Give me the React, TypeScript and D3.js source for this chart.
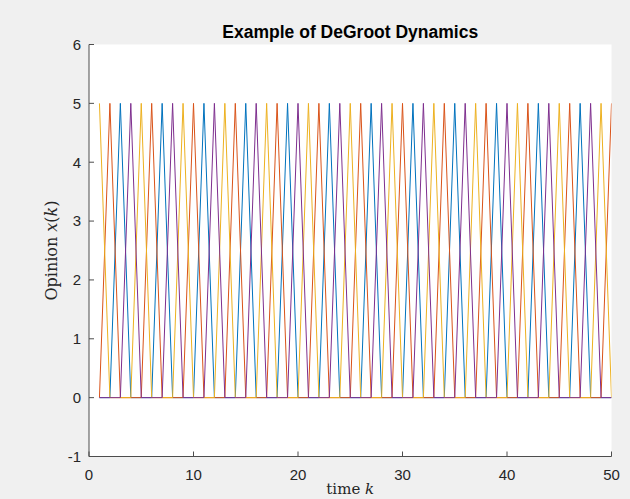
import React from "react";
import * as d3 from "d3";

const timeSteps: number[] = [1,2,3,4,5,6,7,8,9,10,11,12,13,14,15,16,17,18,19,20,21,22,23,24,25,26,27,28,29,30,31,32,33,34,35,36,37,38,39,40,41,42,43,44,45,46,47,48,49,50];

const agent1: number[] = [0,0,5,0, 0,0,5,0, 0,0,5,0, 0,0,5,0, 0,0,5,0, 0,0,5,0, 0,0,5,0, 0,0,5,0, 0,0,5,0, 0,0,5,0, 0,0,5,0, 0,0,5,0, 0,0];
const agent2: number[] = [0,5,0,0, 0,5,0,0, 0,5,0,0, 0,5,0,0, 0,5,0,0, 0,5,0,0, 0,5,0,0, 0,5,0,0, 0,5,0,0, 0,5,0,0, 0,5,0,0, 0,5,0,0, 0,5];
const agent3: number[] = [5,0,0,0, 5,0,0,0, 5,0,0,0, 5,0,0,0, 5,0,0,0, 5,0,0,0, 5,0,0,0, 5,0,0,0, 5,0,0,0, 5,0,0,0, 5,0,0,0, 5,0,0,0, 5,0];
const agent4: number[] = [0,0,0,5, 0,0,0,5, 0,0,0,5, 0,0,0,5, 0,0,0,5, 0,0,0,5, 0,0,0,5, 0,0,0,5, 0,0,0,5, 0,0,0,5, 0,0,0,5, 0,0,0,5, 0,0];

const seriesList: number[][] = [agent1, agent2, agent3, agent4];
const seriesColors: string[] = ["#0072BD", "#D95319", "#EDB120", "#7E2F8E"];

const xTicks: number[] = [0, 10, 20, 30, 40, 50];
const yTicks: number[] = [-1, 0, 1, 2, 3, 4, 5, 6];

const W = 630;
const H = 499;
const left = 89;
const right = 611.5;
const top = 44.5;
const bottom = 456.5;

export default function App() {
  const x = d3.scaleLinear().domain([0, 50]).range([left, right]);
  const y = d3.scaleLinear().domain([-1, 6]).range([bottom, top]);

  const lineGen = (vals: number[]) =>
    d3
      .line<number>()
      .x((_, i) => x(timeSteps[i]))
      .y((d) => y(d))(vals) || "";

  const axisColor = "#4d4d4d";
  const textColor = "#262626";

  return (
    <svg
      width={W}
      height={H}
      style={{ position: "absolute", left: 0, top: 0, background: "#f0f0f0" }}
    >
      <rect x={0} y={0} width={W} height={H} fill="#f0f0f0" />
      <rect x={left} y={top} width={right - left} height={bottom - top} fill="#ffffff" />
      <defs>
        <clipPath id="plotclip">
          <rect x={left} y={top} width={right - left} height={bottom - top} />
        </clipPath>
      </defs>
      <g clipPath="url(#plotclip)">
        {seriesList.map((vals, i) => (
          <path
            key={i}
            d={lineGen(vals)}
            fill="none"
            stroke={seriesColors[i]}
            strokeWidth={1}
          />
        ))}
      </g>
      <line x1={left} y1={top} x2={left} y2={bottom} stroke={axisColor} strokeWidth={1} />
      <line x1={left} y1={bottom} x2={right} y2={bottom} stroke={axisColor} strokeWidth={1} />
      {yTicks.map((t) => (
        <g key={"y" + t}>
          <line x1={left} x2={left + 5} y1={y(t)} y2={y(t)} stroke={axisColor} strokeWidth={1} />
          <text
            x={left - 8}
            y={y(t)}
            dy="0.36em"
            textAnchor="end"
            fontFamily="Liberation Sans, Arial, sans-serif"
            fontSize={15}
            fill={textColor}
          >
            {t}
          </text>
        </g>
      ))}
      {xTicks.map((t) => (
        <g key={"x" + t}>
          <line x1={x(t)} x2={x(t)} y1={bottom} y2={bottom - 5} stroke={axisColor} strokeWidth={1} />
          <text
            x={x(t)}
            y={480}
            textAnchor="middle"
            fontFamily="Liberation Sans, Arial, sans-serif"
            fontSize={15}
            fill={textColor}
          >
            {t}
          </text>
        </g>
      ))}
      <text
        x={(left + right) / 2}
        y={38}
        textAnchor="middle"
        fontFamily="Liberation Sans, Arial, sans-serif"
        fontWeight="bold"
        fontSize={17.5}
        fill="#000"
      >
        Example of DeGroot Dynamics
      </text>
      <text
        transform={`translate(57, ${(top + bottom) / 2}) rotate(-90)`}
        textAnchor="middle"
        fontFamily="DejaVu Serif, Liberation Serif, serif"
        fontSize={16}
        fill={textColor}
      >
        Opinion <tspan fontStyle="italic">x</tspan>(<tspan fontStyle="italic">k</tspan>)
      </text>
      <text
        x={(left + right) / 2}
        y={494}
        textAnchor="middle"
        fontFamily="DejaVu Serif, Liberation Serif, serif"
        fontSize={15}
        fill={textColor}
      >
        time <tspan fontStyle="italic">k</tspan>
      </text>
    </svg>
  );
}
